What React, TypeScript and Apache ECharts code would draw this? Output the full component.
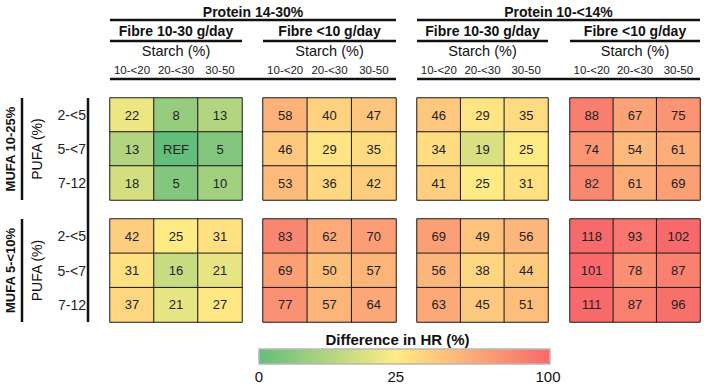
import React, { useEffect, useRef } from 'react';
import * as echarts from 'echarts';

// ---- Data ----
const proteinGroups = ['Protein 14-30%', 'Protein 10-<14%'];
const fibreGroups = ['Fibre 10-30 g/day', 'Fibre <10 g/day', 'Fibre 10-30 g/day', 'Fibre <10 g/day'];
const starchTitle = 'Starch (%)';
const starchCats = ['10-<20', '20-<30', '30-50'];
const pufaTitle = 'PUFA (%)';
const pufaCats = ['2-<5', '5-<7', '7-12'];
const mufaGroups = ['MUFA 10-25%', 'MUFA 5-<10%'];
const refLabel = 'REF';

// MUFA 10-25% row (rows = PUFA, cols = starch)
const mufaHigh_p1430_f1030 = [[22, 8, 13], [13, 0, 5], [18, 5, 10]];
const mufaHigh_p1430_f10 = [[58, 40, 47], [46, 29, 35], [53, 36, 42]];
const mufaHigh_p1014_f1030 = [[46, 29, 35], [34, 19, 25], [41, 25, 31]];
const mufaHigh_p1014_f10 = [[88, 67, 75], [74, 54, 61], [82, 61, 69]];
// MUFA 5-<10% row
const mufaLow_p1430_f1030 = [[42, 25, 31], [31, 16, 21], [37, 21, 27]];
const mufaLow_p1430_f10 = [[83, 62, 70], [69, 50, 57], [77, 57, 64]];
const mufaLow_p1014_f1030 = [[69, 49, 56], [56, 38, 44], [63, 45, 51]];
const mufaLow_p1014_f10 = [[118, 93, 102], [101, 78, 87], [111, 87, 96]];

const panels = [
  [mufaHigh_p1430_f1030, mufaHigh_p1430_f10, mufaHigh_p1014_f1030, mufaHigh_p1014_f10],
  [mufaLow_p1430_f1030, mufaLow_p1430_f10, mufaLow_p1014_f1030, mufaLow_p1014_f10],
];

const legendTitle = 'Difference in HR (%)';
const legendTicks = [0, 25, 100];

// ---- Layout / style ----
const FONT = 'Liberation Sans, Arial, Helvetica, sans-serif';
const colLefts = [110, 263, 417, 570];
const colWidths = [132, 133, 131, 130];
const rowTops = [98, 219];
const rowHeights = [102, 103];
const GREEN = '#63BE7B';
const YELLOW = '#FFEB84';
const RED = '#F8696B';
const scaleColors = [GREEN, YELLOW, '#FDC07C', '#FA9473', RED]; // 0,25,50,75,100
const legendTickPos = [0, 0.47, 1];
const LINE = '#111';

export default function App() {
  const ref = useRef<HTMLDivElement>(null);
  useEffect(() => {
    document.body.style.margin = '0';
    if (!ref.current) return;
    const chart = echarts.init(ref.current, undefined, { renderer: 'svg' });

    const grids: any[] = [];
    const xAxes: any[] = [];
    const yAxes: any[] = [];
    const series: any[] = [];
    for (let r = 0; r < 2; r++) {
      for (let c = 0; c < 4; c++) {
        const idx = r * 4 + c;
        grids.push({
          left: colLefts[c], top: rowTops[r], width: colWidths[c], height: rowHeights[r],
          outerBoundsMode: 'none', containLabel: false,
        });
        xAxes.push({
          gridIndex: idx, type: 'category', data: starchCats, position: 'top',
          axisLine: { show: false }, axisTick: { show: false }, splitLine: { show: false },
          axisLabel: { show: r === 0, margin: 22, fontSize: 11.5, color: '#222', fontFamily: FONT, interval: 0 },
        });
        yAxes.push({
          gridIndex: idx, type: 'category', data: pufaCats, inverse: true,
          axisLine: { show: false }, axisTick: { show: false }, splitLine: { show: false },
          axisLabel: { show: c === 0, margin: 24, fontSize: 14, color: '#222', fontFamily: FONT, interval: 0 },
        });
        const data: any[] = [];
        panels[r][c].forEach((row, yi) => row.forEach((v, xi) => data.push([xi, yi, v])));
        series.push({
          type: 'heatmap', xAxisIndex: idx, yAxisIndex: idx, data,
          itemStyle: { borderColor: '#1a1a1a', borderWidth: 1 },
          label: {
            show: true, fontSize: 13, color: '#222', fontFamily: FONT,
            formatter: (p: any) => (p.value[2] === 0 ? refLabel : String(p.value[2])),
          },
          emphasis: { disabled: true },
        });
      }
    }

    const hline = (x1: number, x2: number, y: number) => ({
      type: 'line', shape: { x1, y1: y, x2, y2: y }, style: { stroke: LINE, lineWidth: 2.5 }, silent: true,
    });
    const vline = (x: number, y1: number, y2: number) => ({
      type: 'line', shape: { x1: x, y1, x2: x, y2 }, style: { stroke: LINE, lineWidth: 2.5 }, silent: true,
    });
    const text = (t: string, x: number, y: number, size: number, bold: boolean, rot = 0) => ({
      type: 'text', x, y, rotation: rot, silent: true,
      style: {
        text: t, align: 'center', verticalAlign: 'middle', fill: '#111',
        font: `${bold ? 'bold ' : ''}${size}px ${FONT}`,
      },
    });

    const graphics: any[] = [];
    // protein headers
    const protSpans = [[colLefts[0], colLefts[1] + colWidths[1]], [colLefts[2], colLefts[3] + colWidths[3]]];
    protSpans.forEach(([a, b], i) => {
      graphics.push(text(proteinGroups[i], (a + b) / 2, 12, 14, true));
      graphics.push(hline(a, b, 20));
      graphics.push(hline(a, b, 79));
    });
    // fibre headers + starch titles
    for (let c = 0; c < 4; c++) {
      const a = colLefts[c], b = colLefts[c] + colWidths[c];
      graphics.push(text(fibreGroups[c], (a + b) / 2, 31, 14, true));
      graphics.push(hline(a, b, 41));
      graphics.push(text(starchTitle, (a + b) / 2, 51, 14.5, false));
    }
    // left side labels
    for (let r = 0; r < 2; r++) {
      const t = rowTops[r], bt = rowTops[r] + rowHeights[r];
      const mid = (t + bt) / 2;
      graphics.push(text(mufaGroups[r], 10, mid, 13, true, Math.PI / 2));
      graphics.push(vline(22, t, bt));
      graphics.push(text(pufaTitle, 37, mid, 14, false, Math.PI / 2));
    }
    graphics.push(vline(88, rowTops[0], rowTops[1] + rowHeights[1]));

    // colour bar legend
    const barX = 259, barW = 291, barY = 349, barH = 15;
    graphics.push(text(legendTitle, barX + barW / 2 - 7, 339, 15, true));
    graphics.push({
      type: 'rect', silent: true,
      shape: { x: barX, y: barY, width: barW, height: barH },
      style: {
        fill: new echarts.graphic.LinearGradient(0, 0, 1, 0, [
          { offset: 0, color: GREEN },
          { offset: legendTickPos[1], color: YELLOW },
          { offset: 1, color: RED },
        ]),
        stroke: '#b8b8b8', lineWidth: 1.5,
      },
    });
    legendTicks.forEach((v, i) => {
      graphics.push(text(String(v), barX + barW * legendTickPos[i] - (i === 2 ? 2 : 0), 376, 15, false));
    });

    chart.setOption({
      animation: false,
      backgroundColor: '#fff',
      grid: grids,
      xAxis: xAxes,
      yAxis: yAxes,
      visualMap: {
        type: 'continuous', show: false, min: 0, max: 100, dimension: 2,
        seriesIndex: series.map((_, i) => i),
        inRange: { color: scaleColors },
      },
      series,
      graphic: graphics,
    });
    return () => chart.dispose();
  }, []);
  return <div ref={ref} style={{ width: 710, height: 386 }} />;
}
